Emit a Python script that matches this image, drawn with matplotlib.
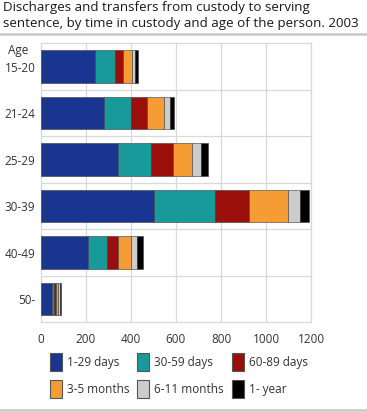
import numpy as np
import matplotlib.pyplot as plt
from matplotlib.patches import Patch

plt.rcParams['font.family'] = ['Open Sans', 'DejaVu Sans']

ages = ['15-20', '21-24', '25-29', '30-39', '40-49', '50-']
series = ['1-29 days', '30-59 days', '60-89 days', '3-5 months', '6-11 months', '1- year']
colors = ['#1a3591', '#189a9a', '#9a0f0a', '#f59c34', '#cccccc', '#000000']

d_1_29 = [242, 278, 341, 504, 211, 47]
d_30_59 = [87, 122, 146, 269, 83, 9]
d_60_89 = [37, 73, 99, 152, 49, 9]
m_3_5 = [39, 75, 85, 171, 57, 10]
m_6_11 = [13, 27, 39, 55, 28, 8]
y_1 = [13, 17, 34, 38, 24, 8]
values = [d_1_29, d_30_59, d_60_89, m_3_5, m_6_11, y_1]

fig = plt.figure(figsize=(3.67, 4.12), dpi=100)
ax = fig.add_axes([41 / 367, 1 - 322.3 / 412, 270 / 367, (322.3 - 43.3) / 412])

y = np.arange(len(ages))
left = np.zeros(len(ages))
for vals, name, c in zip(values, series, colors):
    ax.barh(y, vals, left=left, height=0.7, color=c, edgecolor='#3a3a3a',
            linewidth=0.4, label=name, zorder=3)
    left += np.array(vals)

ax.set_xlim(0, 1200)
ax.set_ylim(len(ages) - 0.5, -0.5)
ax.set_xticks(np.arange(0, 1201, 200))
ax.set_yticks(y)
ax.set_yticklabels(ages)
ax.set_yticks(np.arange(0.5, len(ages) - 0.5, 1), minor=True)
ax.tick_params(axis='both', which='both', length=0, labelsize=8.5,
               labelcolor='#333333', pad=4)
ax.tick_params(axis='x', pad=8)
ax.grid(axis='x', which='major', color='#d9d9d9', linewidth=0.9, zorder=0)
ax.grid(axis='y', which='minor', color='#d9d9d9', linewidth=0.9, zorder=0)
for s in ax.spines.values():
    s.set_color('#d9d9d9')
    s.set_linewidth(0.9)

# "Age" heading above the first category label
ax.text(-0.122, -0.34, 'Age', transform=ax.get_yaxis_transform(), ha='left',
        va='center', fontsize=8.5, color='#333333')

fig.text(3 / 367, 1 - 1.5 / 412, 'Discharges and transfers from custody to serving\n'
         'sentence, by time in custody and age of the person. 2003',
         ha='left', va='top', fontsize=9.6, color='#1a1a1a', linespacing=1.2)
fig.add_artist(plt.Line2D([0, 1], [1 - 33.5 / 412] * 2, color='#c8c8c8', lw=1.8))
fig.add_artist(plt.Line2D([0, 1], [1 - 410 / 412] * 2, color='#c8c8c8', lw=1.8))

# legend fills row by row in the reference
order = [0, 3, 1, 4, 2, 5]
handles = [Patch(facecolor=colors[i], edgecolor='#555555', linewidth=0.8) for i in order]
labels = [series[i] for i in order]
fig.legend(handles, labels, loc='upper left', bbox_to_anchor=(50 / 367, 1 - 353 / 412),
           ncol=3, frameon=False, fontsize=8.5, handlelength=1.0, handleheight=2.0,
           handletextpad=0.45, columnspacing=0.65, labelspacing=0.75,
           borderpad=0, borderaxespad=0, labelcolor='#333333')

fig.savefig('out.png', dpi=100)
